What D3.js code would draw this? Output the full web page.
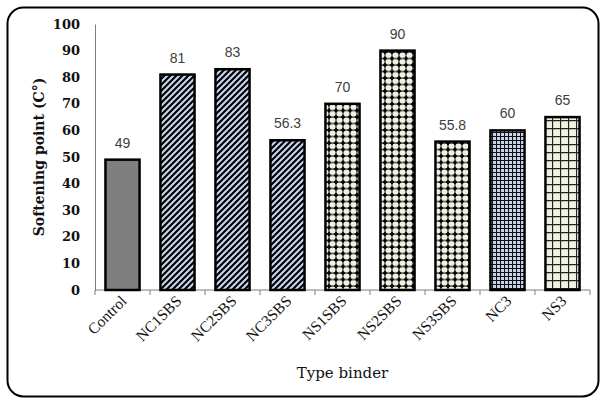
<!DOCTYPE html>
<html>
<head>
<meta charset="utf-8">
<script src="https://cdn.jsdelivr.net/npm/d3@7"></script>
<style>
  html, body { margin: 0; padding: 0; background: #fff; }
  svg { display: block; }
</style>
</head>
<body>
<svg id="chart" width="601" height="400"></svg>
<script>
// Softening point of each binder type
const categories = ["Control", "NC1SBS", "NC2SBS", "NC3SBS", "NS1SBS", "NS2SBS", "NS3SBS", "NC3", "NS3"];
const values = [49, 81, 83, 56.3, 70, 90, 55.8, 60, 65];
const valueLabels = ["49", "81", "83", "56.3", "70", "90", "55.8", "60", "65"];
const fillKinds = ["solid", "stripe", "stripe", "stripe", "dots", "dots", "dots", "fineGrid", "wideGrid"];
const yTicks = [0, 10, 20, 30, 40, 50, 60, 70, 80, 90, 100];

const svg = d3.select("#chart");
const margin = { left: 95, right: 11, top: 24, bottom: 110 };
const W = 601, H = 400;

// Rounded outer frame
svg.append("rect")
  .attr("x", 7.5).attr("y", 7.5)
  .attr("width", 591).attr("height", 389)
  .attr("rx", 16).attr("ry", 16)
  .attr("fill", "#fff").attr("stroke", "#000").attr("stroke-width", 2);

// Fill patterns
const defs = svg.append("defs");

const stripe = defs.append("pattern").attr("id", "stripe")
  .attr("patternUnits", "userSpaceOnUse").attr("width", 6).attr("height", 6);
stripe.append("rect").attr("width", 6).attr("height", 6).attr("fill", "#c7d5ec");
stripe.append("path").attr("d", "M-1,1 l2,-2 M0,6 l6,-6 M5,7 l2,-2")
  .attr("stroke", "#000").attr("stroke-width", 2.1);

const dots = defs.append("pattern").attr("id", "dots")
  .attr("patternUnits", "userSpaceOnUse").attr("width", 7).attr("height", 6.5);
dots.append("rect").attr("width", 7).attr("height", 6.5).attr("fill", "#000");
dots.append("ellipse").attr("cx", 3.5).attr("cy", 3.25).attr("rx", 3.1).attr("ry", 2.9).attr("fill", "#f0f1e4");

const fineGrid = defs.append("pattern").attr("id", "fineGrid")
  .attr("patternUnits", "userSpaceOnUse").attr("width", 4).attr("height", 4);
fineGrid.append("rect").attr("width", 4).attr("height", 4).attr("fill", "#c9d6ec");
fineGrid.append("path").attr("d", "M0,0.5 H4 M0.5,0 V4")
  .attr("stroke", "#111").attr("stroke-width", 1.1);

const wideGrid = defs.append("pattern").attr("id", "wideGrid")
  .attr("patternUnits", "userSpaceOnUse").attr("width", 8).attr("height", 8);
wideGrid.append("rect").attr("width", 8).attr("height", 8).attr("fill", "#eff1df");
wideGrid.append("path").attr("d", "M0,0.5 H8 M0.5,0 V8")
  .attr("stroke", "#222").attr("stroke-width", 1.3);

const fillFor = k => k === "solid" ? "#7f7f7f" : `url(#${k})`;

// Scales
const x = d3.scaleBand().domain(categories)
  .range([margin.left, W - margin.right]).paddingInner(0.38).paddingOuter(0.19);
const y = d3.scaleLinear().domain([0, 100]).range([H - margin.bottom, margin.top]);

// Y axis: plain line with bold serif labels
const yAxis = svg.append("g").attr("transform", `translate(${margin.left},0)`)
  .call(d3.axisLeft(y).tickValues(yTicks).tickSize(0).tickPadding(15));
yAxis.select(".domain").attr("stroke", "#7f7f7f").attr("stroke-width", 1);
yAxis.selectAll("text")
  .attr("font-family", "DejaVu Serif").attr("font-weight", "bold")
  .attr("font-size", 13).attr("fill", "#111");

// X axis line with ticks at category boundaries
const xAxisY = y(0);
svg.append("line")
  .attr("x1", margin.left).attr("x2", W - margin.right)
  .attr("y1", xAxisY).attr("y2", xAxisY)
  .attr("stroke", "#7f7f7f").attr("stroke-width", 1);
const step = x.step();
const boundaries = d3.range(categories.length + 1).map(i => margin.left + i * step);
svg.selectAll(".xtick").data(boundaries).join("line")
  .attr("class", "xtick")
  .attr("x1", d => d).attr("x2", d => d)
  .attr("y1", xAxisY).attr("y2", xAxisY + 5)
  .attr("stroke", "#7f7f7f").attr("stroke-width", 1);

// Bars
svg.selectAll(".bar").data(categories).join("rect")
  .attr("class", "bar")
  .attr("x", d => x(d))
  .attr("y", (d, i) => y(values[i]))
  .attr("width", x.bandwidth())
  .attr("height", (d, i) => y(0) - y(values[i]))
  .attr("fill", (d, i) => fillFor(fillKinds[i]))
  .attr("stroke", "#000").attr("stroke-width", 2.5);

// Value labels above bars
svg.selectAll(".val").data(categories).join("text")
  .attr("class", "val")
  .attr("x", d => x(d) + x.bandwidth() / 2)
  .attr("y", (d, i) => y(values[i]) - 12)
  .attr("text-anchor", "middle")
  .attr("font-family", "Liberation Sans").attr("font-size", 14)
  .attr("fill", "#404040")
  .text((d, i) => valueLabels[i]);

// Category labels, turned 45 degrees and ending just under each bar
svg.selectAll(".cat").data(categories).join("text")
  .attr("class", "cat")
  .attr("transform", d => `translate(${x(d) + x.bandwidth() / 2 + 5},${xAxisY + 12}) rotate(-45)`)
  .attr("text-anchor", "end")
  .attr("font-family", "Liberation Serif").attr("font-size", 15.5)
  .attr("fill", "#111")
  .text(d => d);

// Axis titles
svg.append("text")
  .attr("x", (margin.left + W - margin.right) / 2).attr("y", 378)
  .attr("text-anchor", "middle")
  .attr("font-family", "DejaVu Serif").attr("font-size", 15).attr("fill", "#111")
  .text("Type binder");

svg.append("text")
  .attr("transform", `translate(44,${(y(0) + y(100)) / 2}) rotate(-90)`)
  .attr("text-anchor", "middle")
  .attr("font-family", "DejaVu Serif").attr("font-weight", "bold")
  .attr("font-size", 14).attr("fill", "#111")
  .text("Softening point (C°)");
</script>
</body>
</html>
